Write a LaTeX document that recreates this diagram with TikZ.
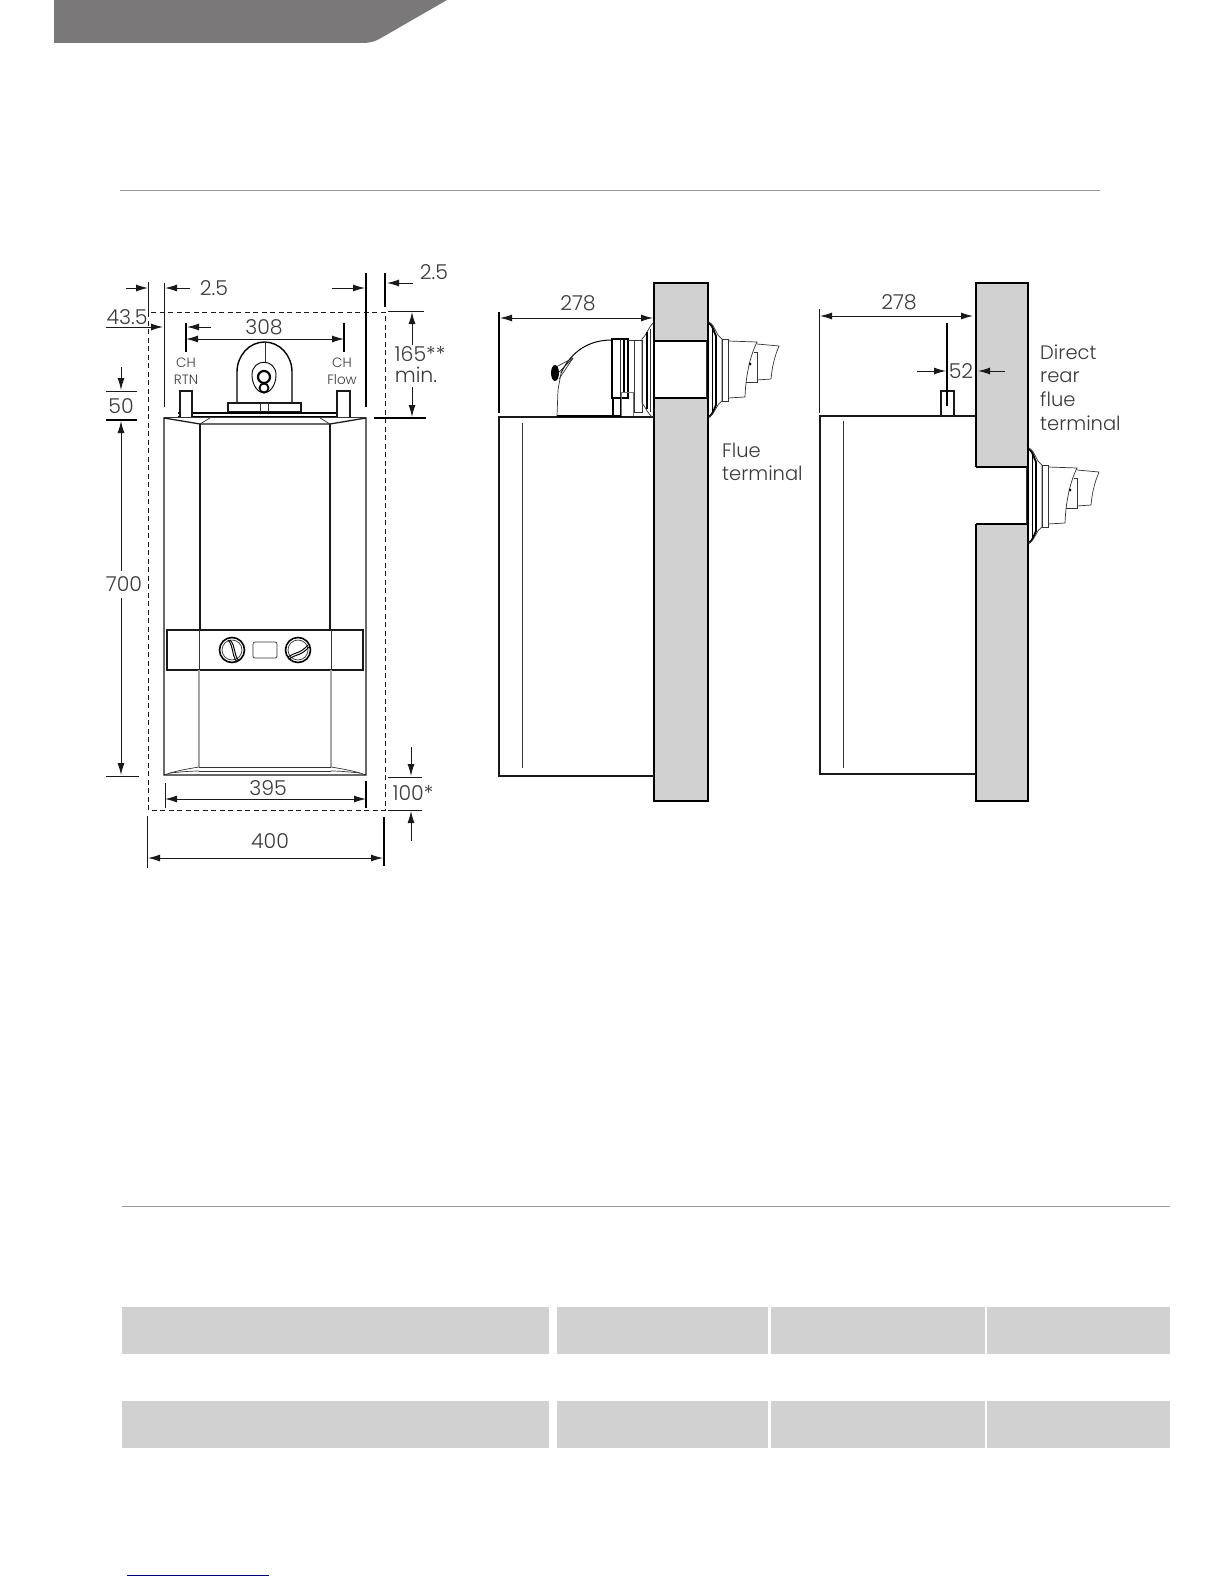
\documentclass[tikz,border=0pt]{standalone}
\usepackage{fontspec}
\setmainfont{Poppins Light}
\usetikzlibrary{arrows.meta}
\definecolor{wallgrey}{HTML}{D1D1D1}
\definecolor{headgrey}{HTML}{7A7878}
\definecolor{textgrey}{HTML}{3A3A3A}
\tikzset{
    dim/.style={draw=black!90, line width=1pt, -{Latex[length=12pt,width=7pt]}},
    dimboth/.style={draw=black!90, line width=1pt, {Latex[length=12pt,width=7pt]}-{Latex[length=12pt,width=7pt]}},
    ext/.style={draw=black!90, line width=0.8pt},
    extthick/.style={draw=black, line width=1.5pt},
    body/.style={draw=black!90, line width=1.3pt},
    thin/.style={draw=black!80, line width=0.7pt},
    label/.style={text=textgrey, font=\fontsize{20.5}{24}\selectfont, inner sep=0pt},
    words/.style={text=textgrey, font=\fontsize{19.5}{24}\selectfont, inner sep=0pt, anchor=base west},
    small/.style={text=textgrey, font=\fontsize{13.5}{16}\selectfont, inner sep=0pt},
    wall/.style={draw=black, line width=1.6pt, fill=wallgrey},
    cell/.style={fill=wallgrey, draw=none},
}
\begin{document}
\begin{tikzpicture}[x=1pt, y=-1pt]
    \useasboundingbox (0, 0) rectangle (1224, 1584);
    \fill[white] (0, 0) rectangle (1224, 1584);
    % page furniture
    \fill[headgrey] (54, 0) -- (447, 0) -- (381, 38) .. controls (376, 41) and (371, 43) .. (362, 43) -- (54, 43) -- cycle;
    \draw[black!40, line width=0.8pt] (120, 190) -- (1100, 190);
    \draw[black!40, line width=0.8pt] (122, 1206) -- (1170, 1206);
    \foreach \ya/\yb in {1307/1354, 1401/1448} {
        \foreach \xa/\xb in {122/549, 557/768, 771/985, 987/1170} {
            \fill[cell] (\xa, \ya) rectangle (\xb, \yb);
        }
    }
    \draw[blue!50!black, line width=1pt] (127, 1575) -- (269, 1575);

    % front view: clearance box
    \draw[black!90, line width=0.9pt, dashed, dash pattern=on 5pt off 3.5pt] (148, 312) rectangle (385, 810);
    \draw[ext] (148, 282) -- (148, 312);
    \draw[ext] (164, 283) -- (164, 407);
    \draw[extthick] (366, 273) -- (366, 407);
    \draw[extthick] (385, 273) -- (385, 307);
    \draw[dim] (126, 288) -- (148, 288);
    \draw[dim] (190, 288) -- (165, 288);
    \node[label] (gapleft) at (214, 288) {2.5};
    \draw[dim] (332, 288) -- (365, 288);
    \draw[dim] (413, 283) -- (387, 283);
    \node[label] (gapright) at (434, 272) {2.5};
    \node[label] (sidegap) at (127, 317) {43.5};
    \draw[dim] (106, 327) -- (163, 327);

    % front view: CH connections
    \draw[extthick] (186, 323) -- (186, 352);
    \draw[extthick] (344, 323) -- (344, 352);
    \draw[dim] (211, 327) -- (187, 327);
    \draw[dimboth] (186, 339) -- (344, 339);
    \node[label] (pipes) at (264, 327) {308};
    \node[small] (rtnone) at (186, 363) {CH};
    \node[small] (rtntwo) at (186, 380) {RTN};
    \node[small] (flowone) at (342, 363) {CH};
    \node[small] (flowtwo) at (342, 380) {Flow};

    % front view: top and bottom clearance
    \draw[ext] (388, 311) -- (424, 311);
    \draw[dim] (412, 345) -- (412, 312);
    \node[label] (topgap) at (420, 354) {165**};
    \node[label] (topmin) at (416, 375) {min.};
    \draw[dim] (412, 387) -- (412, 417);
    \draw[extthick] (374, 418) -- (426, 418);
    \draw[dim] (121, 367) -- (121, 390);
    \draw[ext] (106, 391) -- (137, 391);
    \node[label] (pipeheight) at (121, 406) {50};
    \draw[extthick] (106, 420) -- (137, 420);
    \draw[dim] (121, 571) -- (121, 421);
    \draw[dim] (121, 598) -- (121, 775);
    \node[label] (height) at (124, 584) {700};
    \draw[ext] (106, 776) -- (139, 776);
    \draw[ext] (165, 783) -- (165, 808);
    \draw[extthick] (366, 781) -- (366, 808);
    \draw[dimboth] (165, 799) -- (366, 799);
    \node[label] (width) at (268, 788) {395};
    \draw[ext] (147, 816) -- (147, 868);
    \draw[extthick] (384, 817) -- (384, 866);
    \draw[dimboth] (148, 858) -- (383, 858);
    \node[label] (boxwidth) at (270, 841) {400};
    \draw[dim] (411, 747) -- (411, 776);
    \draw[ext] (388, 777) -- (422, 777);
    \node[label] (bottomgap) at (413, 793) {100*};
    \draw[ext] (388, 810) -- (422, 810);
    \draw[dim] (411, 841) -- (411, 811);

    % front view: boiler case
    \draw[body] (164, 775) -- (164, 418) -- (200, 424) -- (330, 424) -- (366, 418) -- (366, 775) -- cycle;
    \draw[thin] (164, 417) -- (366, 417);
    \draw[thin] (210, 418) -- (200, 424);
    \draw[thin] (320, 418) -- (330, 424);
    \draw[body] (200, 424) -- (200, 630);
    \draw[body] (330, 424) -- (330, 630);
    \draw[body] (167, 630) rectangle (363, 670);
    \draw[thin] (199, 630) -- (199, 670);
    \draw[thin] (331, 630) -- (331, 670);
    \draw[black!35, line width=1.1pt] (199, 670) -- (199, 767);
    \draw[black!35, line width=1.1pt] (331, 670) -- (331, 767);
    \draw[thin] (199, 767) -- (331, 767);
    \draw[thin] (199, 771) -- (331, 771);
    \draw[thin] (164, 775) .. controls (175, 771) and (187, 769) .. (199, 767);
    \draw[thin] (170, 773) .. controls (180, 772) and (190, 771) .. (199, 771);
    \draw[thin] (366, 775) .. controls (355, 771) and (343, 769) .. (331, 767);
    \draw[thin] (360, 773) .. controls (350, 772) and (340, 771) .. (331, 771);

    % front view: controls
    \foreach \kx in {232, 298} {
        \draw[line width=1.6pt] (\kx, 650) circle [radius=12.5];
        \draw[thin] (\kx, 650) circle [radius=10];
    }
    \draw[thin, rounded corners=2pt] (253, 642) rectangle (277, 658);
    \draw[line width=1pt] (228, 640) .. controls (234, 646) and (231, 654) .. (237, 662);
    \draw[line width=1pt] (230, 640) .. controls (236, 646) and (233, 654) .. (239, 661);
    \draw[line width=1pt] (288, 657) .. controls (295, 652) and (300, 654) .. (308, 645);
    \draw[line width=1pt] (289, 659) .. controls (296, 654) and (301, 656) .. (309, 647);

    % front view: flue elbow and pipes
    \draw[line width=1.4pt] (237, 403) -- (237, 372) arc [start angle=180, end angle=360, x radius=27.5, y radius=30] -- (292, 403);
    \draw[thin] (265, 342) -- (265, 362);
    \draw[line width=0.9pt] (252, 375) .. controls (252, 358) and (276, 358) .. (276, 375) .. controls (276, 385) and (270, 393) .. (264, 393) .. controls (258, 393) and (252, 385) .. (252, 375) -- cycle;
    \draw[line width=2.2pt] (264, 377) circle [radius=6];
    \draw[line width=1.8pt] (264, 388) circle [radius=4.5];
    \draw[body] (228, 403) rectangle (301, 412);
    \draw[thin] (260, 403) rectangle (268, 412);
    \draw[line width=1.5pt] (178, 413) -- (345, 413);
    \draw[line width=1pt] (178, 416) -- (345, 416);
    \draw[body, fill=white] (180, 417) -- (180, 391) -- (192, 391) -- (192, 417);
    \draw[body, fill=white] (337, 417) -- (337, 391) -- (350, 391) -- (350, 417);

    % side view with flue terminal
    \draw[wall] (654, 283) rectangle (708, 801);
    \fill[white] (655, 341) rectangle (708, 398);
    \draw[line width=1.4pt] (653, 341) -- (709, 341);
    \draw[line width=1.6pt] (653, 398) -- (709, 398);
    \draw[body] (654, 417) -- (499, 417) -- (499, 776) -- (654, 776);
    \draw[thin] (522, 423) -- (522, 768);
    \draw[extthick] (499, 312) -- (499, 413);
    \draw[dimboth] (500, 318) -- (653, 318);
    \node[label] (depth) at (578, 303) {278};
    \node[words] (flueone) at (722, 457) {Flue};
    \node[words] (fluetwo) at (722, 480) {terminal};

    % side view: elbow
    \draw[thin] (653, 323) .. controls (648, 328) and (646, 336) .. (642, 339) -- (642, 403) .. controls (646, 408) and (648, 414) .. (653, 418);
    \draw[thin] (650, 329) -- (650, 412);
    \draw[line width=1.2pt] (647, 332) -- (647, 409);
    \draw[thin] (634, 340) rectangle (642, 412);
    \draw[line width=1.3pt] (612, 339) rectangle (628, 398);
    \draw[thin] (620, 339) -- (620, 398);
    \draw[line width=1.2pt] (624, 339) -- (624, 392);
    \draw[thin] (628, 340) -- (634, 340);
    \draw[line width=1pt] (612, 340) .. controls (590, 340) and (572, 350) .. (561, 373);
    \draw[thin] (573, 358) -- (556, 367);
    \draw[thin] (573, 358) -- (558, 373);
    \draw[thin] (573, 358) -- (559, 379);
    \fill[black] (555, 373) ellipse [x radius=4, y radius=8];
    \draw[thin] (561, 373) -- (558, 390) -- (557, 416);
    \draw[line width=1.1pt] (557, 416) -- (620, 416);
    \draw[line width=1.1pt] (613, 398) rectangle (621, 416);
    \draw[black!55, line width=1pt] (621, 416) -- (621, 392) -- (633, 392) -- (633, 416);

    % side view with direct rear terminal
    \draw[wall] (976, 283) rectangle (1028, 801);
    \fill[white] (975, 467) rectangle (1028, 524);
    \draw[line width=1.4pt] (976, 467) -- (1029, 467);
    \draw[line width=1.6pt] (976, 524) -- (1029, 524);
    \draw[body] (976, 416) -- (820, 416) -- (820, 774) -- (976, 774);
    \draw[thin] (843, 421) -- (843, 768);
    \draw[ext] (819, 309) -- (819, 413);
    \draw[dimboth] (820, 316) -- (973, 316);
    \node[label] (deptwo) at (899, 302) {278};
    \draw[body] (941, 416) -- (941, 391) -- (954, 391) -- (954, 416);
    \draw[extthick] (947, 323) -- (947, 406);
    \draw[dim] (917, 371) -- (946, 371);
    \draw[dim] (1005, 371) -- (978, 371);
    \node[label] (pipeoffset) at (961, 371) {52};
    \node[words] (directone) at (1040, 359) {Direct};
    \node[words] (directtwo) at (1040, 382) {rear};
    \node[words] (directthree) at (1040, 406) {flue};
    \node[words] (directfour) at (1040, 430) {terminal};

    % terminal outside the wall, both views
    \foreach \tx/\ty in {0/0, 320/126} {
        \begin{scope}[shift={(\tx, \ty)}]
        \draw[thin] (706, 341) -- (706, 398);
        \draw[line width=1.5pt] (708, 341) -- (708, 398);
        \draw[line width=1.8pt] (709, 323) .. controls (713, 326) and (714, 332) .. (716, 336) -- (716, 405) .. controls (714, 409) and (713, 414) .. (709, 417);
        \draw[line width=1pt] (712, 327) -- (712, 413);
        \draw[thin] (709, 322) .. controls (716, 326) and (716, 336) .. (722, 339) -- (722, 401) .. controls (716, 404) and (716, 413) .. (709, 417);
        \draw[thin] (722, 339) rectangle (728, 401);
        \draw[thin] (728, 341) -- (757, 342) .. controls (752, 352) and (746, 370) .. (745, 397) -- (728, 398);
        \draw[thin] (757, 344) -- (779, 346) .. controls (774, 358) and (772, 368) .. (771, 379) -- (757, 380);
        \draw[thin] (754, 352) -- (757, 352) -- (757, 382) -- (746, 382);
        \fill[black] (750, 364) circle [radius=1.5];
        \end{scope}
    }
\end{tikzpicture}
\end{document}
